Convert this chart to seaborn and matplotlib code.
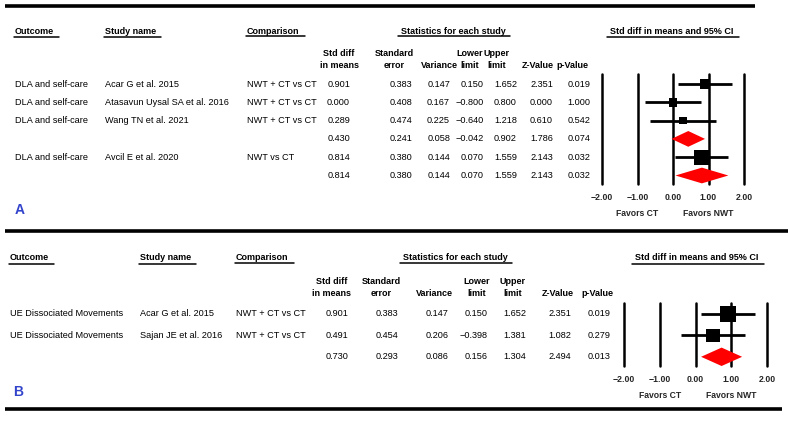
import numpy as np
import pandas as pd
import matplotlib
matplotlib.use("Agg")
import matplotlib.pyplot as plt
import seaborn as sns
from matplotlib.lines import Line2D
from matplotlib.patches import Polygon
from matplotlib.transforms import blended_transform_factory

# ---------------- data: panel A ----------------
A_outcome = ["DLA and self-care", "DLA and self-care", "DLA and self-care", "", "DLA and self-care", ""]
A_study = ["Acar G et al. 2015", "Atasavun Uysal SA et al. 2016", "Wang TN et al. 2021", "", "Avcil E et al. 2020", ""]
A_comparison = ["NWT + CT vs CT", "NWT + CT vs CT", "NWT + CT vs CT", "", "NWT vs CT", ""]
A_smd = [0.901, 0.000, 0.289, 0.430, 0.814, 0.814]
A_se = [0.383, 0.408, 0.474, 0.241, 0.380, 0.380]
A_var = [0.147, 0.167, 0.225, 0.058, 0.144, 0.144]
A_lower = [0.150, -0.800, -0.640, -0.042, 0.070, 0.070]
A_upper = [1.652, 0.800, 1.218, 0.902, 1.559, 1.559]
A_z = [2.351, 0.000, 0.610, 1.786, 2.143, 2.143]
A_p = [0.019, 1.000, 0.542, 0.074, 0.032, 0.032]
A_summary = [False, False, False, True, False, True]
A_group = [1, 1, 1, 1, 2, 2]

# ---------------- data: panel B ----------------
B_outcome = ["UE Dissociated Movements", "UE Dissociated Movements", ""]
B_study = ["Acar G et al. 2015", "Sajan JE et al. 2016", ""]
B_comparison = ["NWT + CT vs CT", "NWT + CT vs CT", ""]
B_smd = [0.901, 0.491, 0.730]
B_se = [0.383, 0.454, 0.293]
B_var = [0.147, 0.206, 0.086]
B_lower = [0.150, -0.398, 0.156]
B_upper = [1.652, 1.381, 1.304]
B_z = [2.351, 1.082, 2.494]
B_p = [0.019, 0.279, 0.013]
B_summary = [False, False, True]
B_group = [1, 1, 1]

tick_values = [-2, -1, 0, 1, 2]
tick_labels = ["\u22122.00", "\u22121.00", "0.00", "1.00", "2.00"]
favors_left = "Favors CT"
favors_right = "Favors NWT"
col_headers = [("Std diff", "in means"), ("Standard", "error"), ("", "Variance"),
               ("Lower", "limit"), ("Upper", "limit"), ("", "Z-Value"), ("", "p-Value")]

# ---------------- figure ----------------
sns.set_theme(style="white")
plt.rcParams["font.family"] = ["Liberation Sans", "DejaVu Sans"]
W, H = 788, 423
fig = plt.figure(figsize=(W / 100, H / 100), dpi=100)
fig.patch.set_facecolor("white")

BODY = 6.6
HEAD = 6.5
renderer = fig.canvas.get_renderer()


def fx(x):
    return x / W


def fy(y):
    return 1 - y / H


def ptext(x, y, s, ha="left", size=BODY, weight="normal", color="black", underline=False):
    t = fig.text(fx(x), fy(y), s, ha=ha, va="center", fontsize=size, fontweight=weight, color=color)
    if underline:
        bb = t.get_window_extent(renderer)
        x0 = bb.x0 - (1 if ha == "left" else 3)
        x1 = bb.x1 + 5
        yl = bb.y0 - 1.0
        fig.add_artist(Line2D([x0 / W, x1 / W], [yl / H, yl / H], color="black", lw=1.1,
                              transform=fig.transFigure))
    return t


def hline(y, x0, x1, lw=2.6):
    fig.add_artist(Line2D([fx(x0), fx(x1)], [fy(y), fy(y)], color="black", lw=lw,
                          transform=fig.transFigure, solid_capstyle="butt"))


def fmt(v):
    return f"{v:.3f}".replace("-", "\u2212")


def panel(outcome, study, comp, cols, summary, group, var, lower, upper, smd,
          head_y, colhead_y, row0, dy, left_x, col_right, head_centers,
          stats_c, forest_c, forest_px, forest_top, forest_bot, fav_y, box_k):
    # section headers
    ptext(left_x[0], head_y, "Outcome", weight="bold", size=HEAD, underline=True)
    ptext(left_x[1], head_y, "Study name", weight="bold", size=HEAD, underline=True)
    ptext(left_x[2], head_y - 1, "Comparison", weight="bold", size=HEAD, underline=True)
    ptext(stats_c, head_y - 1, "Statistics for each study", ha="center", weight="bold", size=HEAD, underline=True)
    ptext(forest_c, head_y, "Std diff in means and 95% CI", ha="center", weight="bold", size=HEAD, underline=True)
    for (l1, l2), cx in zip(col_headers, head_centers):
        if l1:
            ptext(cx, colhead_y[0], l1, ha="center", weight="bold", size=HEAD)
        ptext(cx, colhead_y[1], l2, ha="center", weight="bold", size=HEAD)
    # rows
    n = len(smd)
    for i in range(n):
        y = row0 + i * dy
        ptext(left_x[0], y, outcome[i])
        ptext(left_x[1], y, study[i])
        ptext(left_x[2], y, comp[i])
        for arr, xr in zip(cols, col_right):
            ptext(xr, y, fmt(arr[i]), ha="right")

    # forest axes
    x0, x1 = forest_px
    ax = fig.add_axes([fx(x0), fy(forest_bot), (x1 - x0) / W, (forest_bot - forest_top) / H])
    ax.set_xlim(-2, 2)
    ax.set_ylim((forest_bot - row0) / dy, (forest_top - row0) / dy)
    for s in ax.spines.values():
        s.set_visible(False)
    ax.set_facecolor("none")
    ax.set_yticks([])
    ax.set_xticks(tick_values)
    ax.set_xticklabels(tick_labels, fontsize=6.3, fontweight="bold")
    ax.tick_params(axis="x", length=0, pad=6.6)
    for xv in tick_values:
        ax.axvline(xv, color="black", lw=1.8, clip_on=False, zorder=1)

    df = pd.DataFrame({"row": np.arange(n), "smd": smd, "lower": lower, "upper": upper,
                       "var": var, "summary": summary, "group": group})
    df["w"] = 1 / df["var"]
    studies = df[~df["summary"]].copy()
    studies["rel"] = studies["w"] / studies.groupby("group")["w"].transform("sum")
    studies["side"] = box_k * np.sqrt(studies["rel"]) * 0.72  # px -> pt
    ax.hlines(studies["row"], studies["lower"], studies["upper"], color="black", lw=2.0, zorder=3)
    sns.scatterplot(data=studies, x="smd", y="row", marker="s", s=studies["side"] ** 2,
                    color="black", linewidth=0, legend=False, ax=ax, zorder=4, clip_on=False)
    h = 0.43
    for _, r in df[df["summary"]].iterrows():
        poly = Polygon([(r["lower"], r["row"]), (r["smd"], r["row"] - h),
                        (r["upper"], r["row"]), (r["smd"], r["row"] + h)],
                       closed=True, facecolor="#ff0000", edgecolor="none", zorder=4)
        ax.add_patch(poly)
    ax.set_xlabel("")
    ax.set_ylabel("")
    tr = blended_transform_factory(ax.transData, fig.transFigure)
    ax.text(-1, fy(fav_y), favors_left, transform=tr, ha="center", va="center",
            fontsize=6.2, fontweight="bold")
    ax.text(1, fy(fav_y), favors_right, transform=tr, ha="center", va="center",
            fontsize=6.2, fontweight="bold")
    return ax


# Panel A
hline(6, 5, 755)
panel(A_outcome, A_study, A_comparison, [A_smd, A_se, A_var, A_lower, A_upper, A_z, A_p],
      A_summary, A_group, A_var, A_lower, A_upper, A_smd,
      head_y=32, colhead_y=(53, 65), row0=84, dy=18.3, left_x=(15, 105, 247),
      col_right=(350, 412, 450, 484, 517, 553, 590),
      head_centers=(339, 394, 439, 470, 497, 538, 572),
      stats_c=453, forest_c=672, forest_px=(602, 744), forest_top=74, forest_bot=184,
      fav_y=213, box_k=15)
ptext(15, 210, "A", weight="bold", size=10, color="#3344cc")

# Panel B
hline(231, 5, 788)
panel(B_outcome, B_study, B_comparison, [B_smd, B_se, B_var, B_lower, B_upper, B_z, B_p],
      B_summary, B_group, B_var, B_lower, B_upper, B_smd,
      head_y=258, colhead_y=(282, 293), row0=314, dy=21.4, left_x=(10, 140, 236),
      col_right=(348, 398, 449, 488, 526, 571, 610),
      head_centers=(332, 381, 434, 477, 513, 558, 597),
      stats_c=455, forest_c=697, forest_px=(624, 767), forest_top=303, forest_bot=366,
      fav_y=395, box_k=20.5)
ptext(13, 392, "B", weight="bold", size=10, color="#3344cc")
hline(409, 5, 782)

fig.savefig("out.png", dpi=100, facecolor="white")
